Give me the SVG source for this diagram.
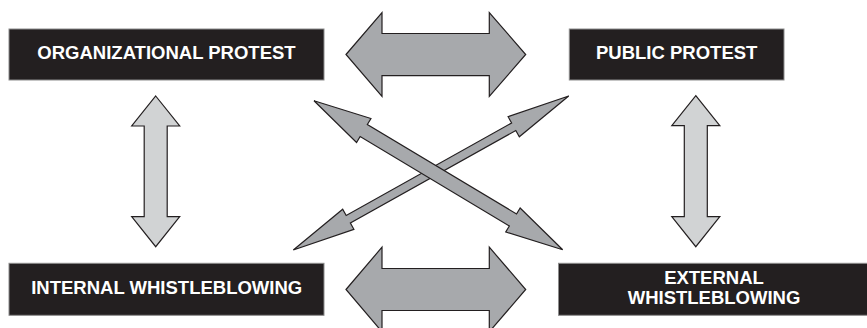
<svg xmlns="http://www.w3.org/2000/svg" width="867" height="328" viewBox="0 0 867 328">
<style>
.box{fill:#231f20;stroke:#8c8c8c;stroke-width:1}
.lbl{font-family:"Liberation Sans",Arial,sans-serif;font-weight:bold;font-size:18.5px;fill:#ffffff;text-anchor:middle}
.big{fill:#a7a9ac;stroke:#231f20;stroke-width:1.2;stroke-linejoin:miter}
.light{fill:#d1d3d4;stroke:#231f20;stroke-width:1.2;stroke-linejoin:miter}
</style>
<rect width="867" height="328" fill="#ffffff"/>
<g id="connectors">
<polygon class="big" points="346,54.5 382,12.5 382,33.5 489.3,33.5 489.3,12.5 525.7,54.5 489.3,96.5 489.3,75.7 382,75.7 382,96.5"/>
<polygon class="big" points="346,289.5 382,247.2 382,268.5 489.3,268.5 489.3,247.2 525.7,289.5 489.3,331.8 489.3,310.5 382,310.5 382,331.8"/>
<polygon class="light" points="155.7,96 179.7,126 167.2,126 167.2,216.7 179.7,216.7 155.7,246.7 131.7,216.7 144.2,216.7 144.2,126 131.7,126"/>
<polygon class="light" points="695.8,95.7 719.8,125.7 707.3,125.7 707.3,216.7 719.8,216.7 695.8,246.7 671.8,216.7 684.3,216.7 684.3,125.7 671.8,125.7"/>
<polygon class="big" points="293.3,250 342.68,209.21 346.19,215.5 511.61,123 508.1,116.71 568.7,96 519.32,136.79 515.81,130.5 350.39,223 353.9,229.29"/>
<polygon class="big" points="314,100.7 370.95,118.51 367.35,124.52 516.55,213.98 520.15,207.97 562.7,249.8 505.75,231.99 509.35,225.98 360.15,136.52 356.55,142.53"/>
</g>
<g id="organizational-protest">
<rect class="box" x="9" y="29" width="315" height="51"/>
<text class="lbl" x="166.5" y="59.3">ORGANIZATIONAL PROTEST</text>
</g>
<g id="public-protest">
<rect class="box" x="569.3" y="29" width="214.7" height="51"/>
<text class="lbl" x="676.7" y="59.3">PUBLIC PROTEST</text>
</g>
<g id="internal-whistleblowing">
<rect class="box" x="9" y="263.3" width="315" height="52"/>
<text class="lbl" x="166.7" y="294.3">INTERNAL WHISTLEBLOWING</text>
</g>
<g id="external-whistleblowing">
<rect class="box" x="558.5" y="263.3" width="310" height="52"/>
<text class="lbl" x="714" y="284.3">EXTERNAL</text>
<text class="lbl" x="714" y="304.3">WHISTLEBLOWING</text>
</g>
</svg>
